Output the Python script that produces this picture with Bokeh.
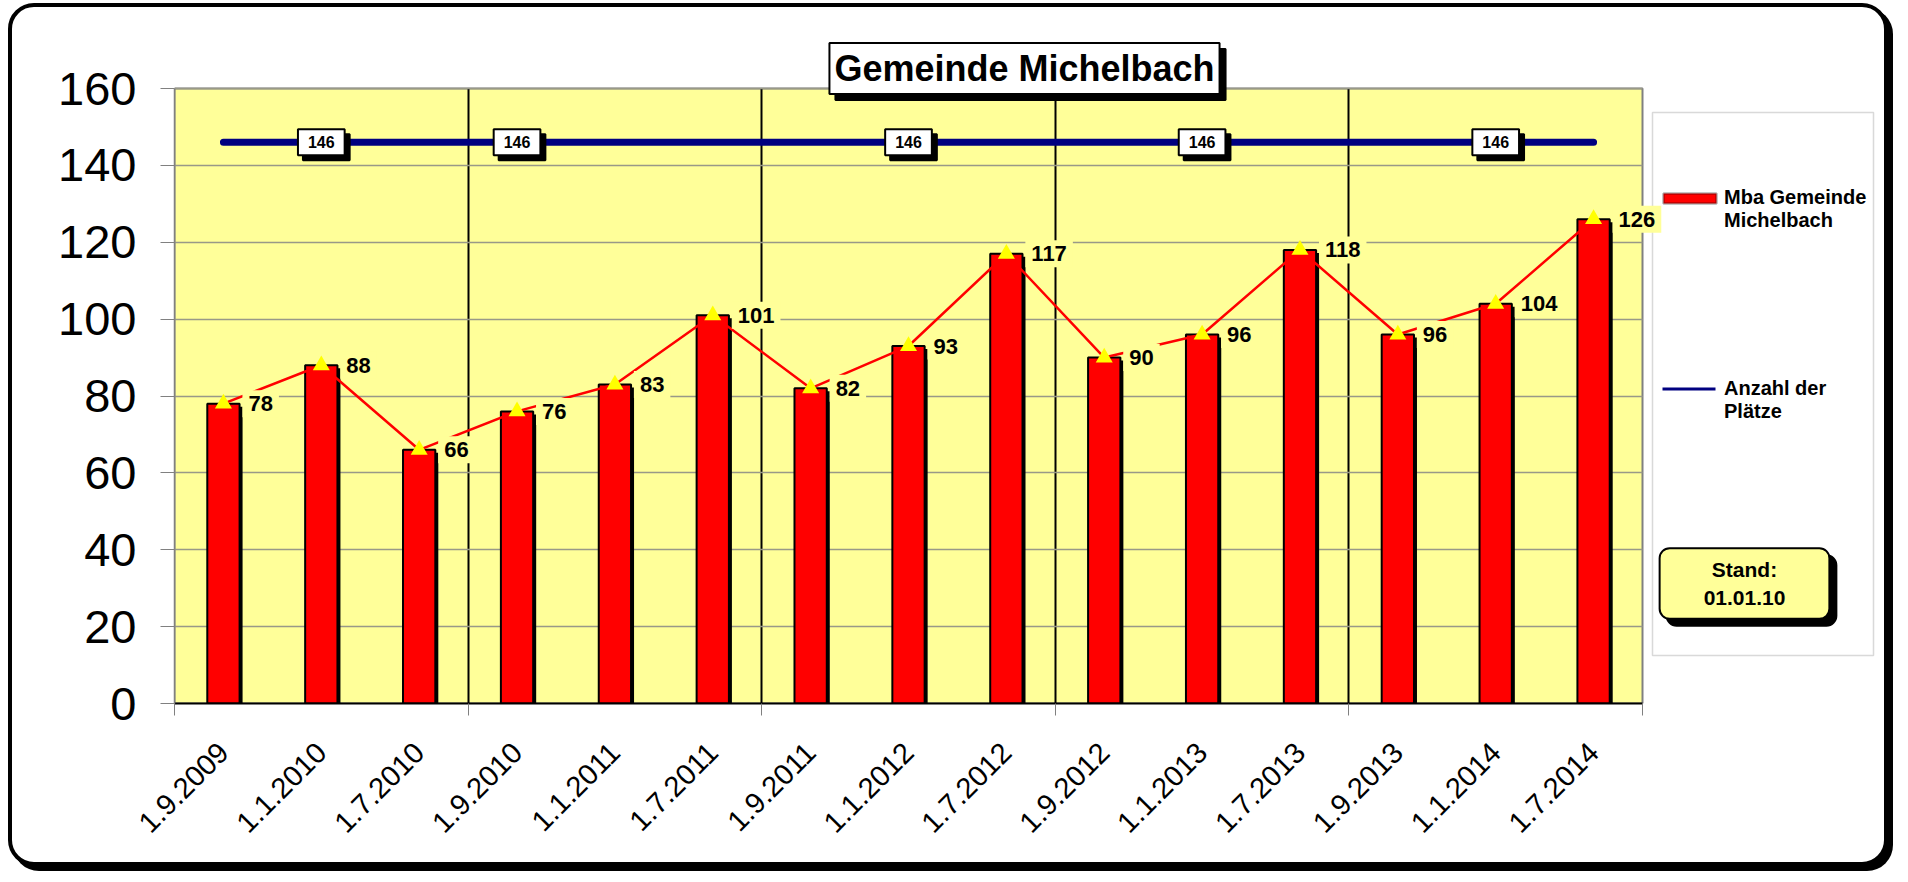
import numpy as np
from bokeh.plotting import figure
from bokeh.models import (ColumnDataSource, Range1d, FixedTicker, BoxAnnotation,
                          Label, Legend, LegendItem)
from bokeh.transform import dodge
from bokeh.core.properties import value
from bokeh.embed import file_html
from bokeh.resources import INLINE

# ---------------- data ----------------
dates = ["1.9.2009", "1.1.2010", "1.7.2010", "1.9.2010", "1.1.2011", "1.7.2011",
         "1.9.2011", "1.1.2012", "1.7.2012", "1.9.2012", "1.1.2013", "1.7.2013",
         "1.9.2013", "1.1.2014", "1.7.2014"]
belegung = [78, 88, 66, 76, 83, 101, 82, 93, 117, 90, 96, 118, 96, 104, 126]
plaetze = [146, 146, 146, 146, 146, 146, 146, 146, 146, 146, 146, 146, 146, 146, 146]
plaetze_label_idx = [1, 3, 7, 10, 13]
y_ticks = [0, 20, 40, 60, 80, 100, 120, 140, 160]
group_bounds = [0, 3, 6, 9, 12, 15]
group_lines = [3, 6, 9, 12]
title_text = "Gemeinde Michelbach"
series_bar = "Mba Gemeinde\nMichelbach"
series_line = "Anzahl der\nPlätze"
stand_text = "Stand:\n01.01.10"

FONT = "Liberation Sans"

# ---------------- layout (canvas pixels) ----------------
W, H = 1880, 863          # canvas; CSS border of 4px around it
PL, PR, PT, PB = 162, 1630, 81, 696   # plot area (yellow) in canvas px
n = len(dates)
YMAX = 160
px_x = (PR - PL) / n
px_y = (PB - PT) / YMAX
x_end = n * (W - PL) / (PR - PL)
y_end = YMAX * PB / (PB - PT)

xs = np.arange(n) + 0.5

p = figure(width=W, height=H, x_range=Range1d(0, x_end), y_range=Range1d(0, y_end),
           output_backend="svg", toolbar_location=None,
           min_border_left=PL, min_border_right=0,
           min_border_top=0, min_border_bottom=H - PB,
           background_fill_alpha=0, border_fill_alpha=0,
           outline_line_color=None,
           styles={"border": "4px solid black", "border-radius": "26px",
                   "box-shadow": "5px 5px 0px 0px black",
                   "background-color": "white",
                   "margin-left": "8px", "margin-top": "3px"})

# yellow plot area
p.quad(left=[0], right=[n], bottom=[0], top=[YMAX], fill_color="#FFFF99",
       line_color="#808080", line_width=2, level="image")

# axes
p.yaxis.ticker = FixedTicker(ticks=y_ticks)
p.yaxis.bounds = (0, YMAX)
p.yaxis.major_label_text_font = FONT
p.yaxis.major_label_text_font_size = "47px"
p.yaxis.major_label_text_color = "black"
p.yaxis.axis_line_color = "#808080"
p.yaxis.axis_line_width = 1.5
p.yaxis.major_tick_line_color = "#808080"
p.yaxis.major_tick_out = 14
p.yaxis.major_tick_in = 0
p.yaxis.minor_tick_line_color = None
p.yaxis.major_label_standoff = 24

p.xaxis.ticker = FixedTicker(ticks=list(xs), minor_ticks=group_bounds)
p.xaxis.bounds = (0, n)
p.xaxis.major_label_overrides = {float(x): d for x, d in zip(xs, dates)}
p.xaxis.major_label_orientation = np.pi / 4
p.xaxis.major_label_text_font = FONT
p.xaxis.major_label_text_font_size = "29px"
p.xaxis.major_label_text_color = "black"
p.xaxis.major_label_standoff = 32
p.xaxis.axis_line_color = "black"
p.xaxis.axis_line_width = 2
p.xaxis.major_tick_line_color = None
p.xaxis.minor_tick_line_color = "#808080"
p.xaxis.minor_tick_out = 12
p.xaxis.minor_tick_in = 0

p.xgrid.ticker = FixedTicker(ticks=group_lines)
p.xgrid.cross_bounds = (0, YMAX)
p.xgrid.grid_line_color = "black"
p.xgrid.grid_line_width = 2
p.ygrid.ticker = FixedTicker(ticks=y_ticks)
p.ygrid.cross_bounds = (0, n)
p.ygrid.grid_line_color = "#999988"
p.ygrid.grid_line_width = 1.5

# ---------------- decorations drawn under the glyphs ----------------
def cbox(l, r, t, b, **kw):
    return BoxAnnotation(left=l, right=r, top=t, bottom=b,
                         left_units="canvas", right_units="canvas",
                         top_units="canvas", bottom_units="canvas", **kw)

# legend box
p.add_layout(cbox(1636, 1857, 101, 644, fill_color="white", fill_alpha=1,
                  line_color="#808080", line_width=1.5, level="underlay"))

# ---------------- glyphs ----------------
src = ColumnDataSource(dict(x=xs, y=belegung, label=[str(v) for v in belegung]))
BAR_W = 0.33
p.vbar(x=dodge("x", 3 / px_x), top=dodge("y", -3 / px_y), bottom=0, width=BAR_W,
       fill_color="black", line_color=None, source=src)
bars = p.vbar(x="x", top="y", bottom=0, width=BAR_W, fill_color="#FF0000",
              line_color="black", line_width=2, source=src)

p.line(xs, plaetze, line_color="#000080", line_width=7, line_cap="round")
p.line("x", "y", line_color="#FF0000", line_width=2.5, source=src)

p.text(x="x", y="y", text="label", source=src, x_offset=19,
       text_align="left", text_baseline="middle",
       text_font=value(FONT), text_font_size="22px", text_font_style="bold",
       text_color="black", background_fill_color="#FFFF99", padding=6)

p.scatter("x", "y", marker="triangle", size=17, fill_color="#FFFF00",
          line_color=None, source=src)

lsrc = ColumnDataSource(dict(x=[xs[i] for i in plaetze_label_idx],
                             y=[plaetze[i] for i in plaetze_label_idx],
                             label=[str(plaetze[i]) for i in plaetze_label_idx]))
LPAD = dict(left=10, right=10, top=7, bottom=7)
p.text(x="x", y="y", text="label", source=lsrc, x_offset=5, y_offset=5,
       text_align="center", text_baseline="middle",
       text_font=value(FONT), text_font_size="16px", text_font_style="bold",
       text_color="black", background_fill_color="black",
       border_line_color="black", border_line_width=2, padding=LPAD)
p.text(x="x", y="y", text="label", source=lsrc,
       text_align="center", text_baseline="middle",
       text_font=value(FONT), text_font_size="16px", text_font_style="bold",
       text_color="black", background_fill_color="white",
       border_line_color="black", border_line_width=2, padding=LPAD)

# legend proxies (invisible; the samples are drawn as boxes aligned to line 1)
bar_proxy = p.vbar(x=[np.nan], top=[np.nan], width=BAR_W, fill_alpha=0, line_alpha=0)
line_proxy = p.line(x=[np.nan], y=[np.nan], line_alpha=0)

# ---------------- legend ----------------
legend = Legend(items=[LegendItem(label=series_bar, renderers=[bar_proxy]),
                       LegendItem(label=series_line, renderers=[line_proxy])],
                location=(1483, 280), orientation="vertical",
                background_fill_alpha=0, border_line_color=None,
                label_text_font=FONT, label_text_font_size="20px",
                label_text_font_style="bold", label_text_color="black",
                glyph_width=66, glyph_height=12, label_standoff=1,
                spacing=145, padding=0, margin=0)
p.add_layout(legend)

# legend samples
p.add_layout(cbox(1647, 1700, 182, 192, fill_color="#FF0000", fill_alpha=1,
                  line_color="black", line_width=2.5))
p.add_layout(cbox(1646, 1699, 376, 379, fill_color="#000080", fill_alpha=1,
                  line_color=None))

# title box with shadow
for dx, tc, bg in [(6, "black", "black"), (0, "black", "white")]:
    p.add_layout(Label(x=1008 + dx, y=57 + dx, x_units="canvas", y_units="canvas",
                       text=title_text, text_align="center", text_baseline="middle",
                       text_font=FONT, text_font_size="36px", text_font_style="bold",
                       text_color=tc, background_fill_color=bg,
                       border_line_color="black", border_line_width=2, padding=5))

# Stand box with shadow
SPAD = dict(left=44, right=44, top=10, bottom=10)
for dx, bg in [(7, "black"), (0, "#FFFF99")]:
    p.add_layout(Label(x=1728 + dx, y=572 + dx, x_units="canvas", y_units="canvas",
                       text=stand_text, text_align="center", text_baseline="middle",
                       text_font=FONT, text_font_size="21px", text_font_style="bold",
                       text_color="black", background_fill_color=bg,
                       border_line_color="black", border_line_width=2,
                       border_radius=10, padding=SPAD))

open("out.html", "w").write(file_html(p, INLINE))
